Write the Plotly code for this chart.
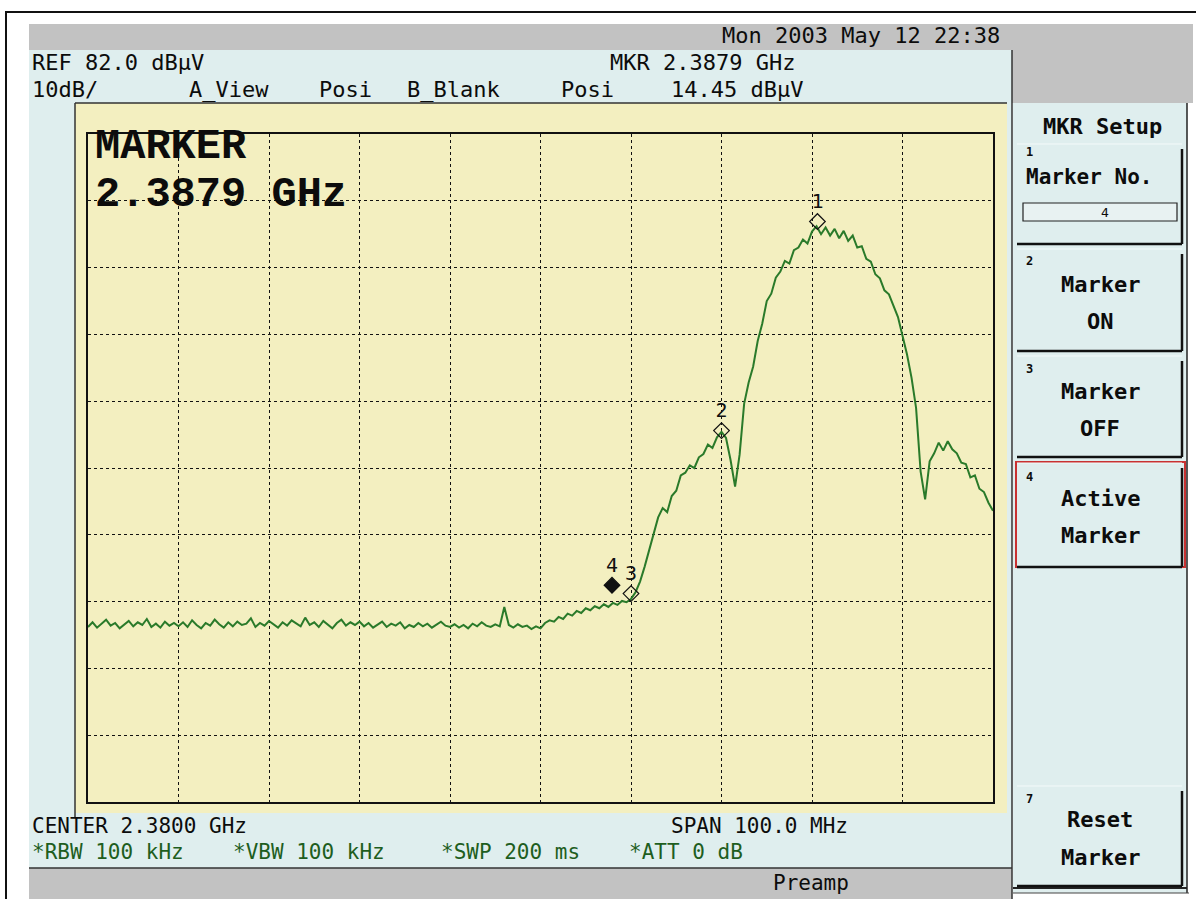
import numpy as np
import plotly.graph_objects as go

W, H = 1196, 899

# ---------------- instrument settings / data ----------------
CENTER_GHZ = 2.38
SPAN_GHZ = 0.1
REF_LEVEL = 82.0
DB_PER_DIV = 10.0
N_DIV = 10

# trace A level (dBuV), sweep points every 0.5 MHz from 2.330 to 2.430 GHz
trace_a_dbuv = [
    # 2330.0 - 2340.0
    8.2, 8.9, 8.1, 8.7, 9.3, 8.4, 8.8, 8.0, 8.6, 9.1, 8.3, 8.9, 8.5, 9.4, 8.2, 8.7, 8.1, 9.0, 8.4, 8.8, 8.3,
    # 2340.5 - 2350.0
    8.9, 8.2, 9.2, 8.5, 8.0, 8.8, 8.4, 9.3, 8.6, 8.1, 8.9, 8.3, 9.0, 8.5, 8.7, 9.5, 8.2, 8.8, 8.4, 9.1,
    # 2350.5 - 2360.0
    8.6, 8.1, 8.9, 8.4, 9.2, 8.7, 8.3, 9.6, 8.5, 8.9, 8.2, 9.1, 8.6, 8.0, 8.8, 9.3, 8.4, 8.9, 8.5, 9.0,
    # 2360.5 - 2370.0
    8.3, 8.8, 8.1, 8.6, 9.0, 8.2, 8.7, 8.4, 8.9, 8.0, 8.5, 8.2, 8.8, 8.3, 8.7, 8.1, 8.6, 9.0, 8.4, 8.2,
    # 2370.5 - 2375.0
    8.6, 8.1, 8.5, 8.0, 8.7, 8.3, 8.9, 8.4, 8.2, 8.6,
    # 2375.5 - 2380.0
    8.3, 11.2, 8.5, 8.1, 8.6, 8.2, 8.4, 7.9, 8.3, 8.0,
    # 2380.5 - 2390.0
    8.8, 9.2, 9.0, 9.7, 9.4, 10.2, 9.9, 10.6, 10.3, 11.0, 10.7, 11.3, 11.0, 11.6, 11.2, 11.8, 11.5, 12.1, 11.9, 12.4,
    # 2390.5 - 2400.0
    13.4, 15.0, 17.2, 19.8, 22.3, 24.6, 26.0, 25.4, 27.8, 28.6, 30.9, 31.3, 32.4, 32.0, 33.6, 34.1, 35.5, 35.0, 36.6, 37.4,
    # 2400.5 - 2410.0
    36.5, 33.2, 29.2, 34.0, 41.6, 44.8, 47.2, 51.0, 53.6, 57.0, 58.1, 60.5, 61.4, 63.0, 62.6, 64.6, 65.0, 66.2, 65.6, 67.4,
    # 2410.5 - 2420.0
    68.2, 67.0, 68.0, 66.8, 67.8, 66.4, 67.5, 66.0, 66.8, 65.0, 65.2, 63.3, 62.9, 61.0, 60.4, 58.6, 58.0, 56.4, 54.6, 51.8,
    # 2420.5 - 2430.0
    49.0, 45.5, 41.0, 31.5, 27.3, 33.0, 34.2, 35.8, 34.6, 36.0, 34.8, 34.2, 32.8, 32.6, 30.6, 30.9, 28.9, 28.4, 26.8, 25.6,
]
sweep_ghz = np.linspace(CENTER_GHZ - SPAN_GHZ / 2, CENTER_GHZ + SPAN_GHZ / 2, len(trace_a_dbuv))

marker_ids = ["1", "2", "3", "4"]
marker_ghz = [2.4106, 2.4000, 2.3900, 2.3879]
marker_dbuv = [68.9, 37.6, 13.2, 14.45]
active_marker = "4"

# ---------------- colours ----------------
C_GRAY = "#C2C2C2"
C_CYAN = "#DFEEEE"
C_YEL = "#F3EFC0"
C_GREEN = "#2A7A2A"
C_TXT = "#0C0C0C"
C_TXTG = "#1E5E1E"
MONO = "DejaVu Sans Mono"


def X(px):
    return px / W


def Y(py):
    return 1 - py / H


shapes = []


def rect(x0, y0, x1, y1, fill=None, lc=None, lw=0):
    shapes.append(dict(type="rect", xref="paper", yref="paper", layer="below",
                       x0=X(x0), x1=X(x1), y0=Y(y1), y1=Y(y0),
                       fillcolor=fill if fill else "rgba(0,0,0,0)",
                       line=dict(color=lc if lc else "rgba(0,0,0,0)", width=lw)))


def seg(x0, y0, x1, y1, color="#111", width=1.5, layer="below"):
    shapes.append(dict(type="line", xref="paper", yref="paper", layer=layer,
                       x0=X(x0), x1=X(x1), y0=Y(y0), y1=Y(y1),
                       line=dict(color=color, width=width)))


annots = []


def txt(s, x, y, size=22, color=C_TXT, anchor="left", bold=False, family=MONO):
    annots.append(dict(text=("<b>%s</b>" % s) if bold else s, x=X(x), y=Y(y),
                       xref="paper", yref="paper", xanchor=anchor, yanchor="middle",
                       showarrow=False, font=dict(family=family, size=size, color=color),
                       borderpad=0))


# ---------------- screen frame ----------------
rect(6, 12, W + 20, H + 20, None, "#111", 2)            # outer frame
rect(29, 24, 1193, 50, C_GRAY)                          # top status bar
rect(1012, 50, 1193, 103, C_GRAY)                       # right top grey
rect(29, 50, 1012, 868, C_CYAN)                         # main screen
rect(29, 868, 1012, H + 5, C_GRAY)                      # bottom bar
seg(29, 868, 1012, 868, "#333", 1.5)
seg(1012, 50, 1012, H, "#333", 1.5)
rect(75, 103, 1007, 813, C_YEL)                         # yellow graticule area
seg(75, 103, 1007, 103, "#333", 1.5)
seg(75, 103, 75, 817, "#333", 1.5)

# right soft-key panel
rect(1013, 103, 1187, 893, C_CYAN)
seg(1187, 103, 1187, 893, "#222", 1.5)
seg(1013, 888, 1187, 888, "#222", 2)
seg(1013, 893, 1189, 893, "#444", 1)


def button(y0, y1, red=False):
    if red:
        rect(1016, y0, 1185, y1, None, "#C83232", 2)
    seg(1017, y0 + 1, 1182, y0 + 1, "#F4FAFA", 1)
    seg(1182, y0 + 6, 1182, y1, "#111", 2.5)
    seg(1017, y1, 1182, y1, "#111", 2.5)


button(143, 244)
button(248, 351)
button(355, 457)
button(462, 567, red=True)
button(785, 886)
rect(1023, 203, 1177, 221, "#E8F2F2", "#222", 1.2)

# ---------------- figure ----------------
fig = go.Figure()
fig.add_trace(go.Scatter(x=sweep_ghz, y=trace_a_dbuv, mode="lines",
                         line=dict(color=C_GREEN, width=2), hoverinfo="skip"))
fig.add_trace(go.Scatter(
    x=marker_ghz, y=marker_dbuv, mode="markers+text", text=marker_ids,
    textposition="top center",
    textfont=dict(family=MONO, size=20, color="#111"),
    marker=dict(symbol=["diamond" if m == active_marker else "diamond-open" for m in marker_ids],
                size=12, color="#111", line=dict(width=1.2, color="#111")),
    hoverinfo="skip", cliponaxis=False))

x_lo = CENTER_GHZ - SPAN_GHZ / 2
x_hi = CENTER_GHZ + SPAN_GHZ / 2
y_lo = REF_LEVEL - N_DIV * DB_PER_DIV

axis_common = dict(showgrid=True, gridcolor="#111111", griddash="dot", gridwidth=1.4,
                   showline=True, mirror=True, linecolor="#111", linewidth=1.6,
                   zeroline=False, showticklabels=False, ticks="", fixedrange=True)

fig.update_layout(
    width=W, height=H, autosize=False,
    margin=dict(l=0, r=0, t=0, b=0),
    paper_bgcolor="white", plot_bgcolor="rgba(0,0,0,0)",
    showlegend=False,
    xaxis=dict(range=[x_lo, x_hi], tick0=x_lo, dtick=SPAN_GHZ / N_DIV,
               domain=[X(88), X(993)], **axis_common),
    yaxis=dict(range=[y_lo, REF_LEVEL], tick0=y_lo, dtick=DB_PER_DIV,
               domain=[Y(802), Y(134)], **axis_common),
    shapes=shapes,
)

# ---------------- texts ----------------
txt("Mon 2003 May 12 22:38", 1001, 36, anchor="right")
txt("REF 82.0 dB\u03bcV", 31, 62)
txt("10dB/", 31, 89)
txt("A_View", 188, 89)
txt("Posi", 318, 89)
txt("B_Blank", 406, 89)
txt("Posi", 560, 89)
txt("MKR 2.3879 GHz", 609, 62)
txt("14.45 dB\u03bcV", 670, 89)

txt("MARKER", 94, 147, size=42, family="Liberation Mono", bold=True)
txt("2.3879 GHz", 94, 195, size=42, family="Liberation Mono", bold=True)

txt("CENTER 2.3800 GHz", 31, 826, size=21)
txt("SPAN 100.0 MHz", 670, 826, size=21)
txt("*RBW 100 kHz", 31, 852, size=21, color=C_TXTG)
txt("*VBW 100 kHz", 232, 852, size=21, color=C_TXTG)
txt("*SWP 200 ms", 440, 852, size=21, color=C_TXTG)
txt("*ATT 0 dB", 628, 852, size=21, color=C_TXTG)
txt("Preamp", 772, 883, size=21)

# soft keys
txt("MKR Setup", 1102, 126, anchor="center", bold=True)
txt("1", 1025, 152, size=12, bold=True)
txt("Marker No.", 1025, 177, size=21, bold=True)
txt("4", 1100, 212, size=13)
txt("2", 1025, 261, size=12, bold=True)
txt("Marker", 1100, 284, anchor="center", bold=True)
txt("ON", 1100, 322, anchor="center", bold=True)
txt("3", 1025, 369, size=12, bold=True)
txt("Marker", 1100, 391, anchor="center", bold=True)
txt("OFF", 1100, 428, anchor="center", bold=True)
txt("4", 1025, 477, size=12, bold=True)
txt("Active", 1100, 498, anchor="center", bold=True)
txt("Marker", 1100, 535, anchor="center", bold=True)
txt("7", 1025, 799, size=12, bold=True)
txt("Reset", 1100, 819, anchor="center", bold=True)
txt("Marker", 1100, 857, anchor="center", bold=True)

fig.update_layout(annotations=annots)

fig.write_html("out.html", config={"displayModeBar": False},
               post_script="document.body.style.margin='0px';")
